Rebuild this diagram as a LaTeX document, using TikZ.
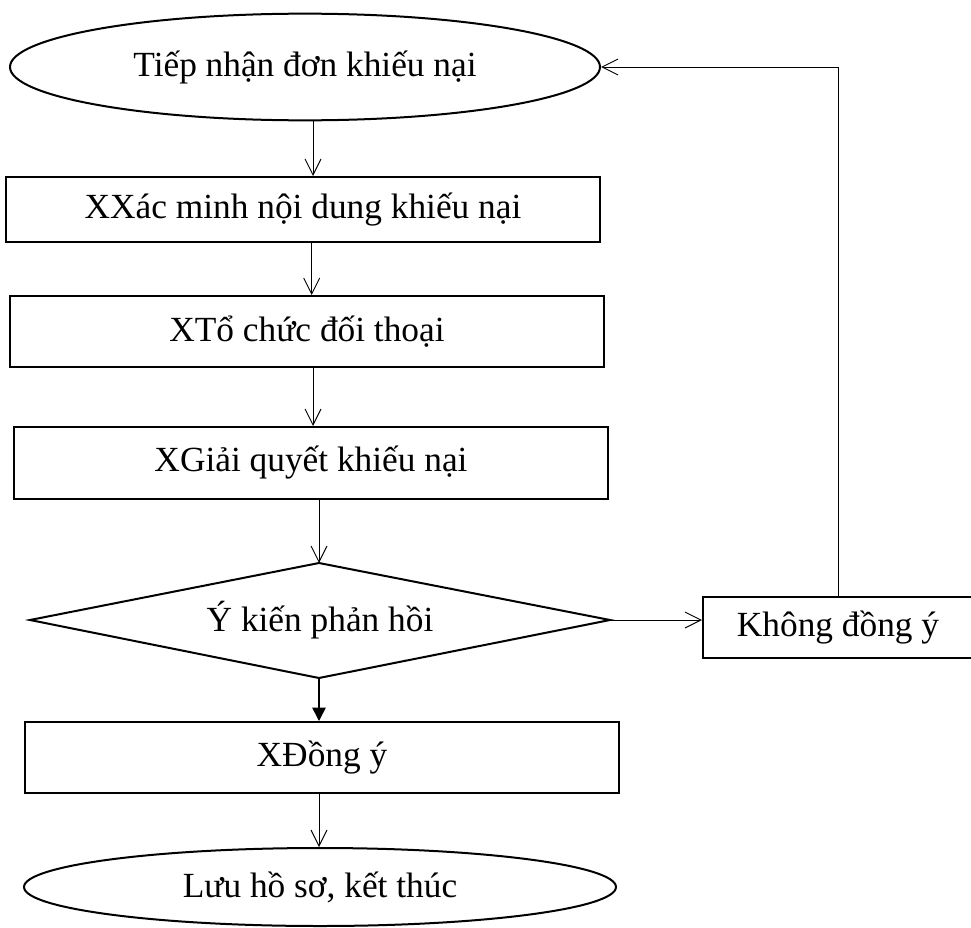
\documentclass[tikz,border=0pt]{standalone}
\usepackage{fontspec}
\setmainfont{Liberation Serif}
\usetikzlibrary{shapes.geometric,arrows.meta}
\begin{document}
\begin{tikzpicture}[x=0.75pt,y=-0.75pt,
  every node/.style={font=\fontsize{26.5}{30}\selectfont,inner sep=0pt},
  procbox/.style={draw,line width=1.5pt,rectangle},
  terminal/.style={draw,line width=1.5pt,ellipse},
  flow/.style={line width=0.7pt,-{Straight Barb[length=12pt,width=12pt]}},
  strongflow/.style={line width=1.2pt,-{Triangle[length=10pt,width=10pt]}}]
\useasboundingbox (0,0) rectangle (971,928);

% start and end terminals
\node[terminal,minimum width=442.5pt,minimum height=80pt] (e1) at (305,67)
  {\raisebox{4pt}{Tiếp nhận đơn khiếu nại}};
\node[terminal,minimum width=444pt,minimum height=58.5pt] (e2) at (320,887)
  {\raisebox{-3pt}{Lưu hồ sơ, kết thúc}};

% process steps
\node[procbox,minimum width=445.5pt,minimum height=48.75pt] (r1) at (303,209.5)
  {XXác minh nội dung khiếu nại};
\node[procbox,minimum width=445.5pt,minimum height=53.25pt] (r2) at (307,331.5)
  {XTổ chức đối thoại};
\node[procbox,minimum width=445.5pt,minimum height=54pt] (r3) at (311,463)
  {XGiải quyết khiếu nại};
\node[procbox,minimum width=445.5pt,minimum height=53.25pt] (r4) at (322,757.5)
  {XĐồng ý};
\node[procbox,minimum width=202.5pt,minimum height=45.75pt] (k) at (838,627.5)
  {Không đồng ý};

% decision diamond
\coordinate (dt) at (319,563);
\coordinate (dr) at (610,620);
\coordinate (db) at (319,678);
\coordinate (dl) at (30,620);
\draw[line width=1.5pt,line join=miter] (dt) -- (dr) -- (db) -- (dl) -- cycle;
\node (d) at (320,620) {Ý kiến phản hồi};

% connectors
\draw[flow] ([xshift=6pt]e1.south) -- ([xshift=6pt]e1.south |- r1.north);
\draw[flow] ([xshift=6.5pt]r1.south) -- ([xshift=6.5pt]r1.south |- r2.north);
\draw[flow] ([xshift=4.5pt]r2.south) -- ([xshift=4.5pt]r2.south |- r3.north);
\draw[flow] (r3.south -| dt) -- (dt);
\draw[strongflow] (db) -- (db |- r4.north);
\draw[flow] (r4.south -| db) -- (db |- e2.north);
\draw[flow] (dr) -- (dr -| k.west);
\draw[flow] (k.north) |- (e1.east);
\end{tikzpicture}
\end{document}
